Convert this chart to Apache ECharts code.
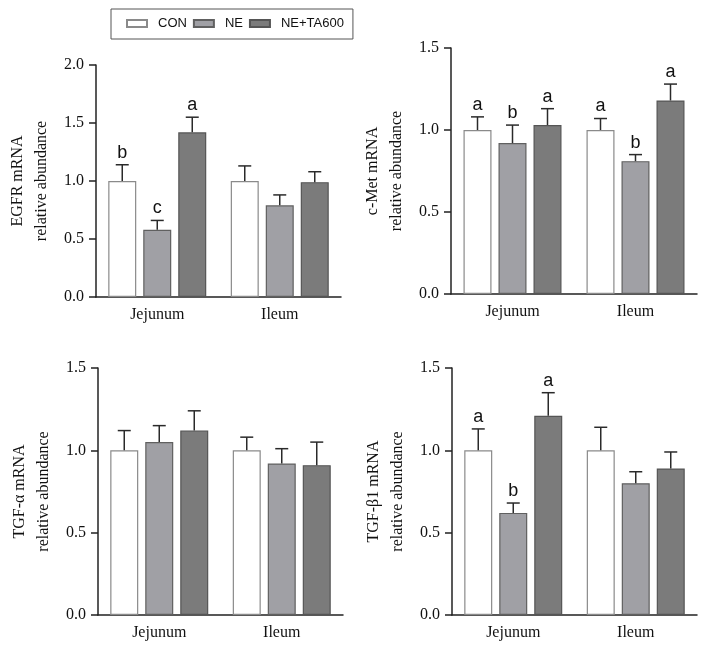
<!DOCTYPE html>
<html>
<head>
<meta charset="utf-8">
<script src="https://cdn.jsdelivr.net/npm/echarts@6/dist/echarts.min.js"></script>
<style>html,body{margin:0;padding:0;background:#fff}#c{width:708px;height:649px}</style>
</head>
<body>
<div id="c"></div>
<script>
// ---- data ----
const categories = ['Jejunum', 'Ileum'];
const groups = ['CON', 'NE', 'NE+TA600'];
const yNames = ['EGFR mRNA\nrelative abundance', 'c-Met mRNA\nrelative abundance', 'TGF-\u03b1 mRNA\nrelative abundance', 'TGF-\u03b21 mRNA\nrelative abundance'];
const yMax = [2.0, 1.5, 1.5, 1.5];
const yTicks = [[0, 0.5, 1.0, 1.5, 2.0], [0, 0.5, 1.0, 1.5], [0, 0.5, 1.0, 1.5], [0, 0.5, 1.0, 1.5]];

// means: rows = groups (CON, NE, NE+TA600), columns = categories
const egfrMean = [[1.00, 1.00], [0.58, 0.79], [1.42, 0.99]];
const egfrSD   = [[0.14, 0.13], [0.08, 0.09], [0.13, 0.09]];
const egfrLetters = [['b', ''], ['c', ''], ['a', '']];

const cmetMean = [[1.00, 1.00], [0.92, 0.81], [1.03, 1.18]];
const cmetSD   = [[0.08, 0.07], [0.11, 0.04], [0.10, 0.10]];
const cmetLetters = [['a', 'a'], ['b', 'b'], ['a', 'a']];

const tgfaMean = [[1.00, 1.00], [1.05, 0.92], [1.12, 0.91]];
const tgfaSD   = [[0.12, 0.08], [0.10, 0.09], [0.12, 0.14]];
const tgfaLetters = [['', ''], ['', ''], ['', '']];

const tgfbMean = [[1.00, 1.00], [0.62, 0.80], [1.21, 0.89]];
const tgfbSD   = [[0.13, 0.14], [0.06, 0.07], [0.14, 0.10]];
const tgfbLetters = [['a', ''], ['b', ''], ['a', '']];

// ---- styles ----
const panelMeans = [egfrMean, cmetMean, tgfaMean, tgfbMean];
const panelSDs = [egfrSD, cmetSD, tgfaSD, tgfbSD];
const panelLetters = [egfrLetters, cmetLetters, tgfaLetters, tgfbLetters];
const fills = ['#ffffff', '#a0a0a5', '#7b7b7b'];
const borders = ['#8a8a8a', '#606060', '#555555'];
const BAR_W = 28, BAR_GAP = 0.25;
const serif = '"Liberation Serif","Times New Roman",serif';
const sans = '"Liberation Sans",Arial,sans-serif';
const grids = [
  {left: 96, top: 65, width: 245, height: 232},
  {left: 451, top: 48, width: 246, height: 246},
  {left: 98, top: 368, width: 245, height: 247},
  {left: 452, top: 368, width: 245, height: 247}
];

const option = {
  animation: false,
  backgroundColor: '#fff',
  legend: {
    left: 111, top: 9,
    data: groups,
    icon: 'rect',
    itemWidth: 20, itemHeight: 7, itemGap: 6,
    padding: [8, 9, 9, 15],
    borderColor: '#555', borderWidth: 1,
    textStyle: {fontFamily: sans, fontSize: 13, color: '#111', padding: [0, 0, 0, 6]}
  },
  grid: grids,
  xAxis: grids.map((g, i) => ({
    type: 'category', gridIndex: i, data: categories,
    axisLine: {lineStyle: {color: '#222', width: 1.5}},
    axisTick: {alignWithLabel: true, length: 6, lineStyle: {color: '#222', width: 1.5}},
    axisLabel: {fontFamily: serif, fontSize: 16, color: '#111', margin: 10}
  })),
  yAxis: grids.map((g, i) => ({
    type: 'value', gridIndex: i, min: 0, max: yMax[i], interval: 0.5,
    name: yNames[i], nameLocation: 'middle', nameRotate: 90, nameGap: 42,
    nameTextStyle: {fontFamily: serif, fontSize: 16, color: '#111', lineHeight: 24},
    axisLine: {show: true, lineStyle: {color: '#222', width: 1.5}},
    axisTick: {show: true, length: 7, lineStyle: {color: '#222', width: 1.5}},
    splitLine: {show: false},
    axisLabel: {fontFamily: serif, fontSize: 16, color: '#111', margin: 12,
      formatter: v => yTicks[i].indexOf(v) >= 0 ? v.toFixed(1) : ''}
  })),
  series: []
};

for (let p = 0; p < 4; p++) {
  groups.forEach((gname, gi) => {
    option.series.push({
      type: 'bar', name: gname, xAxisIndex: p, yAxisIndex: p,
      data: panelMeans[p][gi],
      barWidth: BAR_W, barGap: (BAR_GAP * 100) + '%',
      itemStyle: {color: fills[gi], borderColor: borders[gi], borderWidth: 1.2},
      z: 2
    });
  });
  groups.forEach((gname, gi) => {
    const offset = (gi - 1) * BAR_W * (1 + BAR_GAP);
    const lets = panelLetters[p][gi];
    option.series.push({
      type: 'custom', xAxisIndex: p, yAxisIndex: p, z: 3,
      data: categories.map((c, ci) => [ci, panelMeans[p][gi][ci], panelSDs[p][gi][ci]]),
      renderItem: (params, api) => {
        const x = api.value(0), m = api.value(1), s = api.value(2);
        const b = api.coord([x, m]);
        const t = api.coord([x, m + s]);
        const cx = b[0] + offset;
        const st = {stroke: '#2a2a2a', lineWidth: 1.5};
        const children = [
          {type: 'line', shape: {x1: cx, y1: b[1], x2: cx, y2: t[1]}, style: st},
          {type: 'line', shape: {x1: cx - 6.5, y1: t[1], x2: cx + 6.5, y2: t[1]}, style: st}
        ];
        const L = lets[params.dataIndex];
        if (L) {
          children.push({type: 'text', x: cx, y: t[1] - 3,
            style: {text: L, fill: '#111', font: '18px ' + sans, textAlign: 'center', textVerticalAlign: 'bottom'}});
        }
        return {type: 'group', children};
      }
    });
  });
}

const chart = echarts.init(document.getElementById('c'), null, {renderer: 'canvas'});
chart.setOption(option);
</script>
</body>
</html>
